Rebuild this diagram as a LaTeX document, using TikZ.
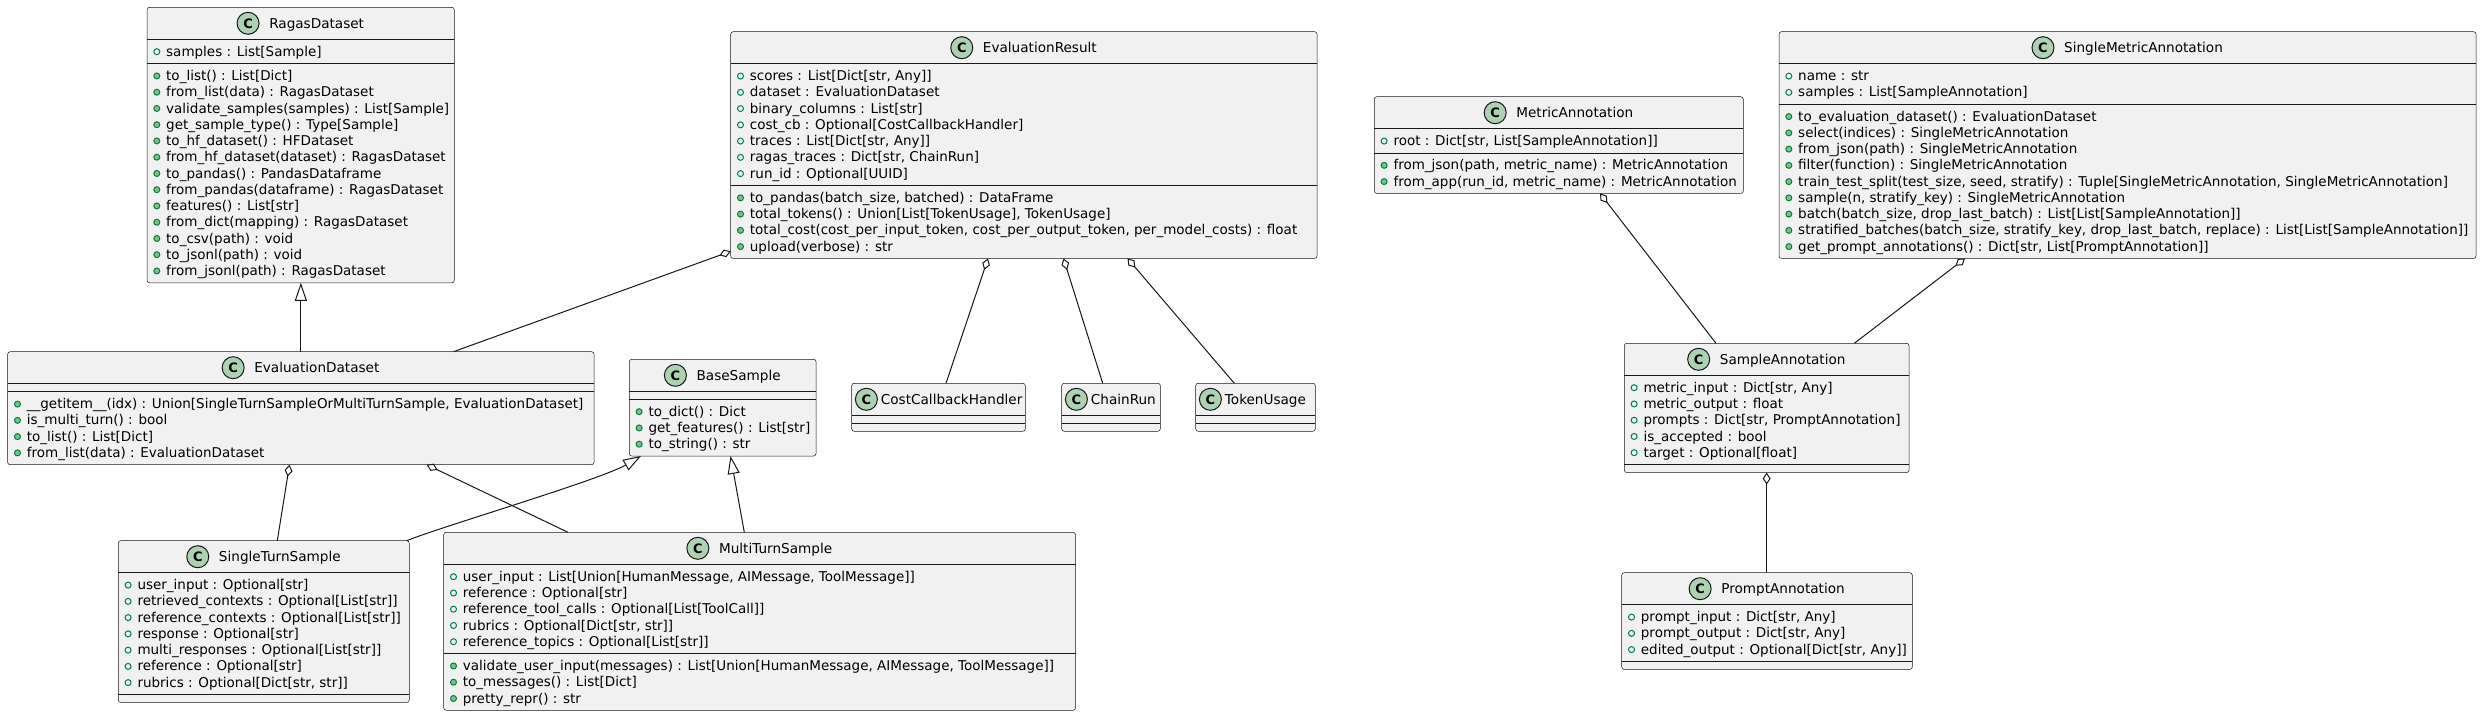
\documentclass[tikz,border=0pt]{standalone}
\usepackage{fontspec}
\setmainfont{DejaVu Sans}
\usetikzlibrary{arrows.meta}
\definecolor{cline}{HTML}{181818}
\definecolor{cbox}{HTML}{F1F1F1}
\definecolor{ccirc}{HTML}{ADD1B2}
\definecolor{cvis}{HTML}{038048}
\definecolor{cmeth}{HTML}{84BE84}

% #1 id, #2 L, #3 T, #4 R, #5 nAttr, #6 nMeth, #7 title, #8 compact (1) or centred (0)
\newcommand{\umlbox}[8]{%
  \pgfmathsetmacro\ubH{#3+32}%
  \pgfmathsetmacro\ubA{\ubH+#5*16.25+8}%
  \pgfmathsetmacro\ubB{\ubA+#6*16.25+8}%
  \pgfmathsetmacro\ubW{#4-#2}%
  \pgfmathsetmacro\ubHt{\ubB-#3}%
  \pgfmathsetmacro\ubCx{(#2+#4)/2}%
  \pgfmathsetmacro\ubCy{(#3+\ubB)/2}%
  \xdef\curL{#2}\xdef\curH{\ubH}\xdef\curA{\ubA}%
  \node[classbox, minimum width=\ubW bp, minimum height=\ubHt bp] (#1) at (\ubCx,\ubCy) {};
  \draw[sepline] (#2,\ubH) -- (#4,\ubH);
  \draw[sepline] (#2,\ubA) -- (#4,\ubA);
  \ifnum#8=1
    \node[titletext, anchor=base west] (#1-t) at (#2+29,#3+21) {#7};
    \node[cicon] (#1-c) at (#2+14.7,#3+16) {C};
  \else
    \node[titletext, anchor=base] (#1-t) at (\ubCx+16,#3+21) {#7};
    \node[cicon] (#1-c) at ([shift={(-21,-5)}]#1-t.base west) {C};
  \fi
}
\newcommand{\umlattrs}[2]{%
  \foreach \s [count=\i] in {#2} {
    \pgfmathsetmacro\ry{\curH+17+(\i-1)*16.25}
    \pgfmathsetmacro\iy{\ry-4.6}
    \node[rowtext, anchor=base west] (#1-a\i) at (\curL+19,\ry) {\s};
    \node[aicon] (#1-ai\i) at (\curL+9.8,\iy) {};
  }
}
\newcommand{\umlmeths}[2]{%
  \foreach \s [count=\i] in {#2} {
    \pgfmathsetmacro\ry{\curA+17+(\i-1)*16.25}
    \pgfmathsetmacro\iy{\ry-4.6}
    \node[rowtext, anchor=base west] (#1-m\i) at (\curL+19,\ry) {\s};
    \node[micon] (#1-mi\i) at (\curL+9.8,\iy) {};
  }
}

\begin{document}
\begin{tikzpicture}[x=1bp,y=-1bp,
  classbox/.style={draw=cline, line width=0.5bp, fill=cbox, rounded corners=2.5bp, inner sep=0pt, outer sep=0pt},
  sepline/.style={draw=cline, line width=0.5bp},
  titletext/.style={font=\fontsize{13.6bp}{16bp}\selectfont, inner sep=0pt, text=black},
  rowtext/.style={font=\fontsize{13.5bp}{16bp}\selectfont, inner sep=0pt, text=black},
  cicon/.style={circle, draw=cline, line width=1bp, fill=ccirc, minimum size=22bp, inner sep=0pt,
    font=\bfseries\fontsize{13bp}{13bp}\selectfont},
  aicon/.style={circle, draw=cvis, line width=1bp, minimum size=6bp, inner sep=0pt},
  micon/.style={circle, draw=cvis, fill=cmeth, line width=1bp, minimum size=6bp, inner sep=0pt},
  conn/.style={draw=cline, line width=1bp},
  inh/.style={conn, -{Triangle[open, length=18bp, width=12bp]}},
  agg/.style={conn, {Diamond[fill=white, length=12bp, width=8bp]}-}
]
\fill[white] (0,0) rectangle (2481,716);
\useasboundingbox (0,0) rectangle (2481,716);

% RagasDataset
\umlbox{rd}{147}{7.3}{454.3}{1}{13}{RagasDataset}{0}
\umlattrs{rd}{{samples : List[Sample]}}
\umlmeths{rd}{{to\_list() : List[Dict]},{from\_list(data) : RagasDataset},{validate\_samples(samples) : List[Sample]},{get\_sample\_type() : Type[Sample]},{to\_hf\_dataset() : HFDataset},{from\_hf\_dataset(dataset) : RagasDataset},{to\_pandas() : PandasDataframe},{from\_pandas(dataframe) : RagasDataset},{features() : List[str]},{from\_dict(mapping) : RagasDataset},{to\_csv(path) : void},{to\_jsonl(path) : void},{from\_jsonl(path) : RagasDataset}}

% EvaluationResult
\umlbox{er}{730.7}{31.7}{1317}{7}{4}{EvaluationResult}{0}
\umlattrs{er}{{scores : List[Dict[str, Any]]},{dataset : EvaluationDataset},{binary\_columns : List[str]},{cost\_cb : Optional[CostCallbackHandler]},{traces : List[Dict[str, Any]]},{ragas\_traces : Dict[str, ChainRun]},{run\_id : Optional[UUID]}}
\umlmeths{er}{{to\_pandas(batch\_size, batched) : DataFrame},{total\_tokens() : Union[List[TokenUsage], TokenUsage]},{total\_cost(cost\_per\_input\_token, cost\_per\_output\_token, per\_model\_costs) : float},{upload(verbose) : str}}

% EvaluationDataset
\umlbox{ed}{7.7}{351.7}{594}{0}{4}{EvaluationDataset}{0}
\umlmeths{ed}{{\_\_getitem\_\_(idx) : Union[SingleTurnSampleOrMultiTurnSample, EvaluationDataset]},{is\_multi\_turn() : bool},{to\_list() : List[Dict]},{from\_list(data) : EvaluationDataset}}

% BaseSample
\umlbox{bs}{629.3}{359.3}{816}{0}{3}{BaseSample}{0}
\umlmeths{bs}{{to\_dict() : Dict},{get\_features() : List[str]},{to\_string() : str}}

% small classes
\umlbox{cch}{851.7}{383.3}{1025.3}{0}{0}{CostCallbackHandler}{1}
\umlbox{cr}{1061.7}{383.3}{1160.3}{0}{0}{ChainRun}{1}
\umlbox{tu}{1195.7}{383.3}{1315.3}{0}{0}{TokenUsage}{1}

% SingleTurnSample
\umlbox{sts}{118.3}{540.7}{409.3}{7}{0}{SingleTurnSample}{0}
\umlattrs{sts}{{user\_input : Optional[str]},{retrieved\_contexts : Optional[List[str]]},{reference\_contexts : Optional[List[str]]},{response : Optional[str]},{multi\_responses : Optional[List[str]]},{reference : Optional[str]},{rubrics : Optional[Dict[str, str]]}}

% MultiTurnSample
\umlbox{mts}{443.7}{532.3}{1075.5}{5}{3}{MultiTurnSample}{0}
\umlattrs{mts}{{user\_input : List[Union[HumanMessage, AIMessage, ToolMessage]]},{reference : Optional[str]},{reference\_tool\_calls : Optional[List[ToolCall]]},{rubrics : Optional[Dict[str, str]]},{reference\_topics : Optional[List[str]]}}
\umlmeths{mts}{{validate\_user\_input(messages) : List[Union[HumanMessage, AIMessage, ToolMessage]]},{to\_messages() : List[Dict]},{pretty\_repr() : str}}

% MetricAnnotation
\umlbox{ma}{1374.3}{96.7}{1743.3}{1}{2}{MetricAnnotation}{0}
\umlattrs{ma}{{root : Dict[str, List[SampleAnnotation]]}}
\umlmeths{ma}{{from\_json(path, metric\_name) : MetricAnnotation},{from\_app(run\_id, metric\_name) : MetricAnnotation}}

% SingleMetricAnnotation
\umlbox{sma}{1779}{31.7}{2476}{2}{9}{SingleMetricAnnotation}{0}
\umlattrs{sma}{{name : str},{samples : List[SampleAnnotation]}}
\umlmeths{sma}{{to\_evaluation\_dataset() : EvaluationDataset},{select(indices) : SingleMetricAnnotation},{from\_json(path) : SingleMetricAnnotation},{filter(function) : SingleMetricAnnotation},{train\_test\_split(test\_size, seed, stratify) : Tuple[SingleMetricAnnotation, SingleMetricAnnotation]},{sample(n, stratify\_key) : SingleMetricAnnotation},{batch(batch\_size, drop\_last\_batch) : List[List[SampleAnnotation]]},{stratified\_batches(batch\_size, stratify\_key, drop\_last\_batch, replace) : List[List[SampleAnnotation]]},{get\_prompt\_annotations() : Dict[str, List[PromptAnnotation]]}}

% SampleAnnotation
\umlbox{sa}{1624.3}{343.3}{1909}{5}{0}{SampleAnnotation}{0}
\umlattrs{sa}{{metric\_input : Dict[str, Any]},{metric\_output : float},{prompts : Dict[str, PromptAnnotation]},{is\_accepted : bool},{target : Optional[float]}}

% PromptAnnotation
\umlbox{pa}{1621.7}{572.7}{1912.3}{3}{0}{PromptAnnotation}{0}
\umlattrs{pa}{{prompt\_input : Dict[str, Any]},{prompt\_output : Dict[str, Any]},{edited\_output : Optional[Dict[str, Any]]}}

% connector end points on the box borders
\coordinate (er-a1) at (730.7,251.3);
\coordinate (ed-a1) at (453.5,351.7);
\coordinate (ed-a2) at (289.5,464.7);
\coordinate (sts-a) at (277.3,540.7);
\coordinate (ed-a3) at (426.7,464.7);
\coordinate (mts-a) at (568,532.3);
\coordinate (sts-i) at (406.7,540.7);
\coordinate (bs-i1) at (641,456);
\coordinate (mts-i) at (744.3,532.3);
\coordinate (bs-i2) at (730.5,456);
\coordinate (er-a2) at (988,258.4);
\coordinate (cch-a) at (946,383.3);
\coordinate (er-a3) at (1063.5,258.4);
\coordinate (cr-a) at (1102.7,383.3);
\coordinate (er-a4) at (1127.5,258.4);
\coordinate (tu-a) at (1234.3,383.3);
\coordinate (ma-a) at (1600,193.4);
\coordinate (sa-a1) at (1716,343.3);
\coordinate (sma-a) at (1965,258.4);
\coordinate (sa-a2) at (1854.3,343.3);

% connectors
\draw[inh] (ed.north) -- (ed.north |- rd.south);
\draw[agg] (er-a1) -- (ed-a1);
\draw[agg] (ed-a2) -- (sts-a);
\draw[agg] (ed-a3) -- (mts-a);
\draw[inh] (sts-i) .. controls (440,527) and (600,480) .. (bs-i1);
\draw[inh] (mts-i) -- (bs-i2);
\draw[agg] (er-a2) -- (cch-a);
\draw[agg] (er-a3) -- (cr-a);
\draw[agg] (er-a4) -- (tu-a);
\draw[agg] (ma-a) -- (sa-a1);
\draw[agg] (sma-a) -- (sa-a2);
\draw[agg] (sa.south) -- (sa.south |- pa.north);
\end{tikzpicture}
\end{document}
